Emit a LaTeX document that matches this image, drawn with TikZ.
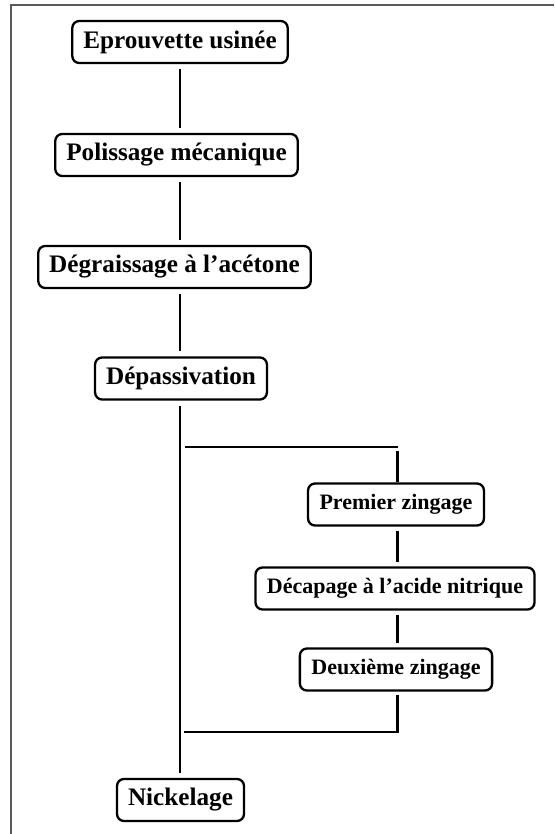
\documentclass[tikz,border=0pt]{standalone}
\usepackage{fontspec}
\setmainfont{Liberation Serif}
\begin{document}
\begin{tikzpicture}[x=1pt,y=1pt,
  box/.style={draw, line width=2.3pt, rounded corners=7pt, fill=white,
    inner xsep=11pt, inner ysep=0pt, minimum height=42pt,
    font=\bfseries\fontsize{25.2}{28}\selectfont},
  sbox/.style={box, inner xsep=11.5pt, font=\bfseries\fontsize{22}{25}\selectfont, minimum height=42pt},
  link/.style={line width=2.4pt},
  frame/.style={draw=black!65, line width=1.4pt}]
\useasboundingbox (0,0) rectangle (554,-834);
% frame
\draw[frame] (554,-5) -- (11,-5) -- (11,-834);
% nodes
\node[box] (e1) at (180,-42) {Eprouvette usinée};
\node[box] (e2) at (176.5,-155) {Polissage mécanique};
\node[box] (e3) at (174.5,-267) {Dégraissage à l’acétone};
\node[box] (e4) at (181,-378.5) {Dépassivation};
\node[sbox] (p1) at (396,-504.5) {Premier zingage};
\node[sbox] (p2) at (395,-588.5) {Décapage à l’acide nitrique};
\node[sbox] (p3) at (396,-669.5) {Deuxième zingage};
\node[box] (n) at (180.5,-800) {Nickelage};
% axes
\coordinate (ax) at (180,0);
\coordinate (bx) at (397.5,0);
\coordinate (j1) at (185,-447);
\coordinate (j2) at (398,-447);
\coordinate (j3) at (397.5,-451);
\coordinate (k1) at (184,-732);
\coordinate (k2) at (397.5,-732);
% connectors
\draw[link, shorten <=5pt, shorten >=5pt] (e1.south -| ax) -- (e2.north -| ax);
\draw[link, shorten <=5pt, shorten >=5pt] (e2.south -| ax) -- (e3.north -| ax);
\draw[link, shorten <=5pt, shorten >=5pt] (e3.south -| ax) -- (e4.north -| ax);
\draw[link, shorten <=5pt, shorten >=5pt] (e4.south -| ax) -- (n.north -| ax);
\draw[link] (j1) -- (j2);
\draw[link] (j3) -- (p1.north -| bx);
\draw[link, shorten <=4pt, shorten >=4pt] (p1.south -| bx) -- (p2.north -| bx);
\draw[link, shorten <=4pt, shorten >=4pt] (p2.south -| bx) -- (p3.north -| bx);
\draw[link, shorten <=3pt] (p3.south -| bx) -- (k2) -- (k1);
\end{tikzpicture}
\end{document}
